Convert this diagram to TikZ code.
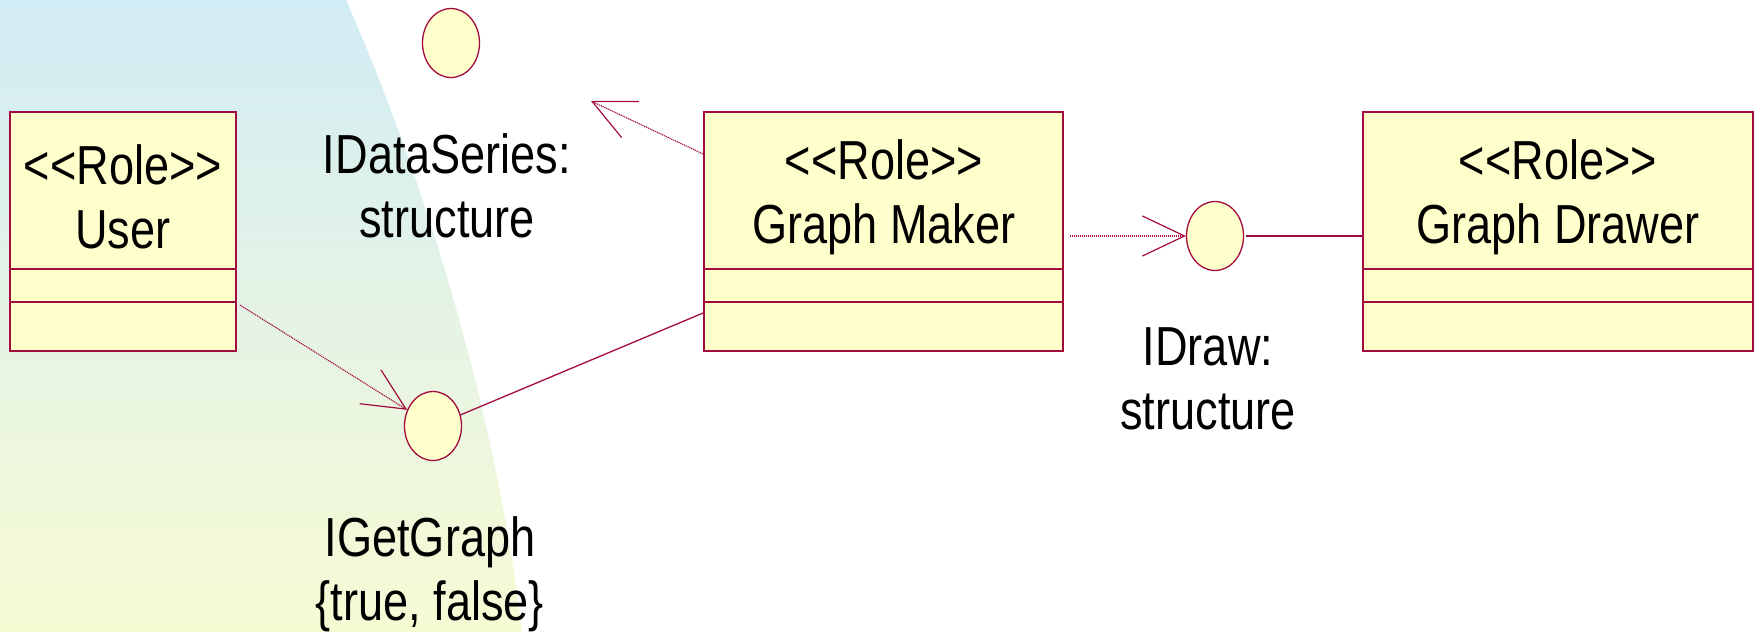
\documentclass[tikz,border=0pt]{standalone}
\usepackage{fontspec}
\setmainfont{Liberation Sans}[FakeStretch=0.82]
\usetikzlibrary{arrows.meta,calc,shapes.geometric}

\definecolor{umlline}{RGB}{163,10,64}
\definecolor{umlfill}{RGB}{255,255,204}
\definecolor{bgtop}{RGB}{210,236,245}
\definecolor{bgmid}{RGB}{230,243,228}
\definecolor{bgbot}{RGB}{247,251,212}

% stereotype brackets kept as separate glyphs
\newcommand{\stereo}[1]{<{}<#1>{}>}

\begin{document}
\begin{tikzpicture}[x=1pt,y=-1pt,
  classbox/.style={draw=umlline, fill=umlfill, line width=1.8pt, inner sep=0pt,
    minimum height=239pt},
  divider/.style={draw=umlline, line width=1.6pt},
  iface/.style={ellipse, draw=umlline, fill=umlfill, line width=1.3pt, inner sep=0pt,
    minimum width=57pt, minimum height=69pt},
  boxtext/.style={align=center, font=\fontsize{55}{64}\selectfont, inner sep=0pt},
  lbltext/.style={align=center, font=\fontsize{55}{64}\selectfont, inner sep=0pt},
  dep/.style={draw=umlline, line width=1.1pt, dash pattern=on 1.2pt off 0.8pt,
    -{Straight Barb[length=42pt,width=40pt,line width=1.2pt]}},
  link/.style={draw=umlline, line width=1.3pt}]

\useasboundingbox (0,0) rectangle (1759,632);

% shaded backdrop on the left
\shade[top color=bgtop, middle color=bgmid, bottom color=bgbot]
  (0,0) -- (346,0) .. controls (415,157) and (494,393) .. (522,632) -- (0,632) -- cycle;

% role classes
\node[classbox, minimum width=226pt] (user) at (123,231.5) {};
\node[classbox, minimum width=359pt] (gm) at (883.5,231.5) {};
\node[classbox, minimum width=390pt] (gd) at (1558,231.5) {};

\foreach \b in {user,gm,gd}{
  \draw[divider] (\b.west |- 0,269) -- (\b.east |- 0,269);
  \draw[divider] (\b.west |- 0,302) -- (\b.east |- 0,302);
}

\node[boxtext] (usertxt) at (123,197) {\stereo{Role}\\User};
\node[boxtext] (gmtxt) at (884,197) {\stereo{Role}\\Graph Maker};
\node[boxtext] (gdtxt) at (1558,197) {\stereo{Role}\\Graph Drawer};

% interfaces
\node[iface] (idata) at (451,43) {};
\node[iface] (idraw) at (1215,236) {};
\node[iface] (iget) at (433,426) {};

\node[lbltext] (idatatxt) at (447,186) {IDataSeries:\\structure};
\node[lbltext] (idrawtxt) at (1208,379) {IDraw:\\structure};
\node[lbltext] (igettxt) at (430,574) {IGetGraph\\\{true, false\}};

% connectors
\coordinate (dstip) at (591,101);
\draw[dep] (gm.west |- 0,154) -- (dstip);
\draw[dep] ([xshift=6pt]gm.east |- idraw.west) -- (idraw.west);
\draw[dep] ([xshift=3pt]user.east |- 0,305) -- (iget.148);
\draw[link] (iget.22) -- (gm.west |- 0,313);
\draw[link] ([xshift=2pt]idraw.east) -- (gd.west |- idraw.east);

\end{tikzpicture}
\end{document}
